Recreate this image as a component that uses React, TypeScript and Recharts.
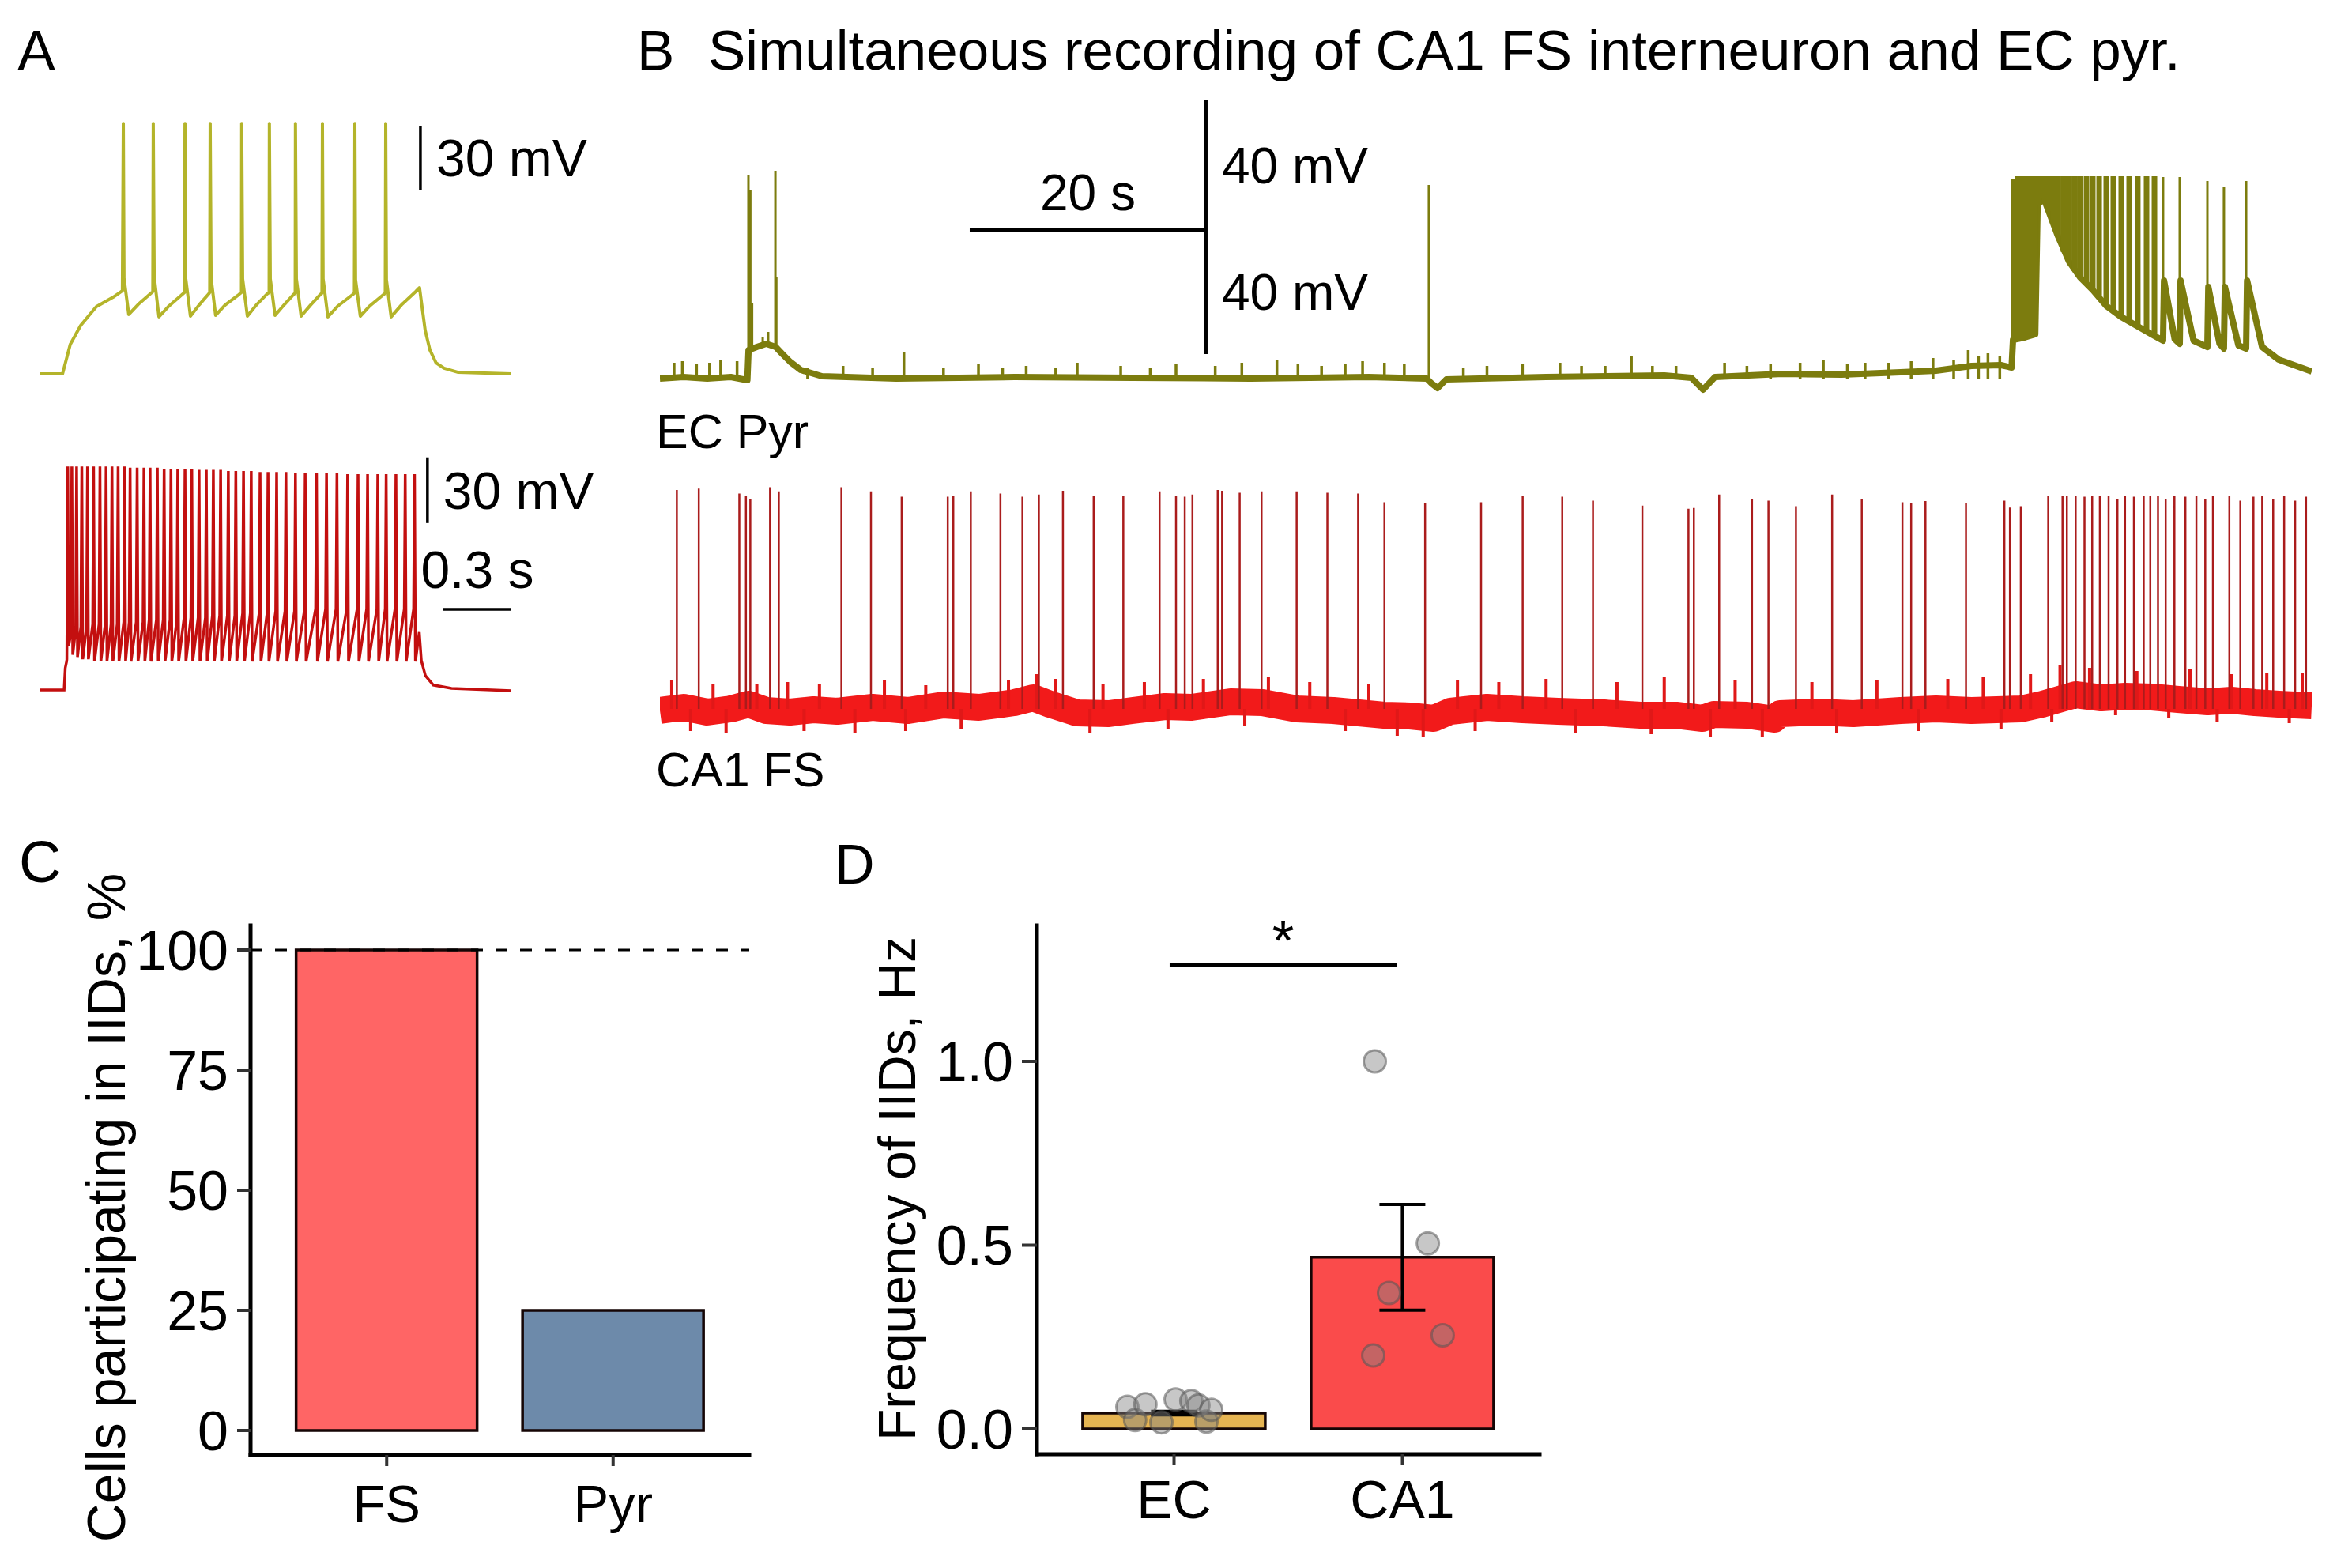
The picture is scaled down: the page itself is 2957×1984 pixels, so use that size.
import React from 'react';
import {
  LineChart, Line, XAxis, YAxis, ReferenceLine, BarChart, Bar, Cell,
  ComposedChart, Scatter, ErrorBar,
} from 'recharts';

// ---------- Panel A: current-step responses (time in ms, Vm in mV) ----------
// EC pyramidal cell, slow membrane potential around the spikes
const pyrKnots = [
  [0, -70], [98, -70], [108, -66], [132, -56.4], [178, -47.6], [247, -38.9], [321, -34.5], [362, -31.5],
  [369, -25.7], [390, -42.5], [432, -37.8], [484, -33], [496, -31.9],
  [502, -24.9], [523, -43.6], [564, -38.9], [624, -33.4], [636, -32.3],
  [641, -25.7], [662, -43.3], [700, -38.1], [742, -33], [747, -32.3],
  [753, -25.7], [773, -42.9], [815, -38.1], [874, -33.4], [887, -32.3],
  [892, -26], [913, -43.3], [955, -37.8], [1000, -33], [1009, -32.3],
  [1014, -26], [1035, -42.9], [1077, -37.8], [1115, -33.4], [1124, -32.6],
  [1129, -26], [1150, -43.3], [1192, -38.1], [1233, -33.4], [1242, -32.6],
  [1247, -26], [1268, -43.6], [1313, -38.5], [1376, -33.4], [1385, -32.6],
  [1390, -26.4], [1411, -43.3], [1453, -38.5], [1512, -33.4], [1521, -32.6],
  [1526, -26.4], [1547, -43.6], [1592, -38.1], [1655, -31.9], [1672, -30.1], [1683, -38.9],
  [1697, -49.9], [1718, -59], [1745, -64.9], [1780, -67.4], [1843, -69.3], [2077, -70],
];
// [time, peak]
const pyrSpikes = [
  [366, 46], [498, 46], [638, 46], [749, 46], [888, 46], [1010, 46], [1125, 46], [1244, 46], [1387, 46], [1523, 46],
];

// FS interneuron: onset / offset of the step
const fsKnots = [
  [0, -70], [105, -70], [110, -60], [116, -57],
  [1671, -43.6], [1680, -56.6], [1698, -63.5], [1733, -67.8], [1813, -69.3], [2077, -70.4],
];
// [time, peak, threshold before, trough after]
const fsSpikes = [
  [121, 32, -56, -50], [139, 32, -44, -54], [160, 32, -42, -55], [183, 32, -41, -56], [208, 32, -41, -56],
  [235, 32, -40, -57], [263, 32, -40, -57], [290, 32, -40, -57], [316, 32, -40, -57], [343, 32, -40, -57],
  [372, 32, -39, -57], [396, 31.5, -39, -57], [427, 31.5, -39, -57], [457, 31.5, -39, -57], [484, 31.5, -38, -57],
  [516, 31.5, -38, -57], [546, 31, -38, -57], [576, 31, -38, -57], [606, 31, -38, -57], [638, 31, -37, -57],
  [668, 31, -37, -57], [700, 30.5, -37, -57], [732, 30.5, -37, -57], [763, 30.5, -36, -57], [795, 30.5, -36, -57],
  [829, 30, -36, -57], [862, 30, -36, -57], [896, 30, -35, -57], [930, 30, -35, -57], [969, 29.5, -35, -57],
  [1004, 29.5, -35, -57], [1042, 29.5, -34, -57], [1083, 29.5, -34, -57], [1125, 29, -34, -57], [1168, 29, -34, -57],
  [1218, 29, -33, -57], [1262, 29, -33, -57], [1308, 29, -33, -57], [1355, 28.5, -33, -57], [1401, 28.5, -33, -57],
  [1443, 28.5, -33, -57], [1488, 28.5, -33, -57], [1525, 28.5, -33, -57], [1568, 28.5, -33, -57], [1609, 28.5, -33, -57],
  [1650, 28.5, -33, -57],
];

// ---------- Panel B: simultaneous recording (time in s, Vm in mV) ----------
const ecBase = [
  [0, -61], [2, -60.5], [4, -61], [6, -60.5], [7.4, -61.5], [7.5, -52], [8.2, -51], [9.0, -50], [9.8, -51],
  [10.37, -53.25], [11.04, -55.75], [11.91, -58.25], [13.71, -60.25], [20, -61], [30, -60.5], [40, -60.75],
  [50, -61], [60, -60.5], [64.9, -61], [65.3, -62.5], [65.82, -64], [66.56, -61.25], [75, -60.5], [85, -60],
  [87.29, -60.75], [88.29, -64.5], [89.3, -60.5], [95, -59.5], [100, -59.75], [105, -59], [108, -58.5],
  [111, -57], [113.5, -56.75], [114.4, -57.5], [114.52, -48.75], [115.5, -48], [116.4, -47], [116.6, -6],
  [117.12, -4], [117.53, -8], [118.33, -16], [119.26, -24],
  [120.2, -29], [121.27, -33], [122.41, -38], [123.68, -41.5], [125.08, -44.5], [126.49, -47.5], [127.22, -49],
  [127.3, -30], [128.2, -48.5], [128.63, -50], [128.7, -30], [129.8, -49], [130.97, -51], [131.05, -32],
  [132.0, -50], [132.37, -51.5], [132.45, -32], [133.6, -50.5], [134.25, -51.5], [134.33, -30], [135.6, -51],
  [137, -55], [139.8, -58.75],
];
// isolated action potentials [time, peak, base]
const ecSpikes = [
  [7.49, 3.25, -61], [7.56, -1.25, -52], [7.65, -1.25, -52], [7.8, -37, -52], [8.7, -48, -51], [9.16, -46.25, -50],
  [9.77, 4.75, -51], [9.85, -28.75, -51], [65.08, 0.25, -61],
  [127.22, 2.75, -49], [128.63, 2.75, -50], [130.97, 1.5, -51], [132.37, -0.25, -51.5], [134.25, 1.5, -51.5],
];
// dense discharge at the onset of the ictal-like event [time, peak, trough]
const ecBurst = [
  [114.6, 2, -48], [114.9, 3, -48], [115.2, 3, -48], [115.5, 3, -48], [115.8, 3, -47.5], [116.1, 3, -47.5],
  [116.4, 3, -47], [116.72, 3, -6], [117.12, 3, -4], [117.53, 3, -8], [117.93, 3, -12], [118.33, 3, -16],
  [118.8, 3, -21], [119.26, 3, -24], [119.73, 3, -27], [120.2, 3, -29], [120.74, 3, -31], [121.27, 3, -33],
  [121.81, 3, -35.5], [122.41, 3, -38], [123.01, 3, -40], [123.68, 3, -41.5], [124.35, 3, -42.5], [125.08, 3, -44.5],
  [125.82, 3, -46], [126.49, 3, -47.5],
];
// small synaptic bumps on the EC baseline [time, peak]
const ecBumps = [
  [1.2, -56], [1.9, -55.5], [3.1, -56.5], [4.2, -56], [5.14, -55], [6.53, -55.5], [12.5, -57.5], [15.5, -57],
  [18, -57.5], [20.65, -52.75], [24, -57.5], [26.96, -56.5], [29, -57.5], [31, -57], [33.5, -57.5], [35.32, -56],
  [39, -57], [41.5, -57.5], [43.68, -56.5], [47, -57], [49.25, -56], [52.22, -55], [54, -56.5], [56, -57],
  [58, -56.5], [59.47, -55.5], [61.32, -56], [63, -56.5], [68, -57.5], [70, -57], [73, -56.5], [76.18, -56],
  [78, -57], [80, -57], [82.22, -54], [84, -57], [86, -57], [90.11, -56], [92, -57], [94, -56.5], [96.5, -56],
  [98.47, -55], [100.5, -56.5], [102, -56], [104, -56], [105.9, -55.5], [107.75, -54.5], [109.5, -55],
  [110.73, -52], [111.6, -54], [112.4, -53], [113.4, -54],
];

const ca1Base = [
  [0, -60.5], [2, -59.5], [4, -61], [6, -60], [7.5, -58.5], [9, -60.5], [11, -61], [13, -60.25], [15, -60.75],
  [18, -59.5], [21, -60.5], [24, -58.75], [27, -59.5], [30, -58], [31.6, -56.5], [33, -58.5], [35.3, -61.25],
  [38, -61.5], [40, -60.5], [42.75, -59.25], [45, -59.5], [48.3, -57.75], [51, -58], [53.9, -60], [57, -60.5],
  [61.3, -62], [63.5, -62.25], [65.5, -63], [66.9, -60.75], [70, -59.5], [73, -60.25], [76, -60.75],
  [79.9, -61.25], [83, -62], [86, -62], [88.25, -63], [89.2, -61.75], [92, -62], [94.3, -63.25],
  [94.8, -61.5], [98, -61], [101, -61.5], [105, -60.5], [108, -60], [111, -60.5], [115.2, -60], [117, -58.5],
  [119.8, -55.5], [122, -56.5], [124, -56], [126.3, -56.25], [128.5, -57], [131, -57.75], [133, -57.25],
  [135, -58], [137, -58.5], [139.8, -59],
];
// [time, peak]
const ca1Spikes = [
  [1.43, 9.25], [3.29, 9.7], [6.72, 8.1], [7.28, 7.5], [7.65, 6.3], [9.32, 10.1], [10.06, 8.8], [15.36, 10.1],
  [17.86, 8.8], [20.46, 7.1], [24.36, 7.1], [24.83, 7.5], [26.31, 8.8], [28.82, 8.1], [30.68, 7.1], [32.07, 7.8],
  [34.11, 9.0], [36.71, 7.3], [39.22, 7.3], [42.29, 8.8], [43.68, 7.5], [44.42, 7.1], [45.07, 7.8], [47.21, 9.25],
  [47.58, 9.0], [49.07, 8.4], [50.92, 8.8], [53.89, 8.8], [56.49, 8.4], [59.09, 8.1], [61.32, 5.4], [64.76, 5.25],
  [69.5, 5.4], [73.02, 7.3], [76.37, 7.1], [78.97, 5.85], [83.15, 4.3], [87.05, 3.3], [87.51, 3.55], [89.65, 7.8],
  [92.43, 6.3], [93.82, 5.85], [96.15, 4.15], [99.21, 7.8], [101.72, 6.3], [105.16, 5.4], [105.9, 5.25],
  [107.11, 5.75], [110.54, 5.25], [113.79, 5.85], [114.26, 3.7], [115.18, 4.15], [117.5, 7.5], [118.71, 7.5],
  [119.08, 7.3], [119.82, 7.5], [120.57, 7.1], [121.22, 7.5], [121.87, 7.3], [122.61, 7.5], [123.36, 6.3],
  [124.0, 7.5], [124.75, 7.1], [125.58, 7.5], [126.14, 7.3], [126.79, 7.5], [127.44, 6.3], [128.18, 7.5],
  [129.11, 7.1], [130.04, 7.5], [130.79, 6.3], [131.44, 7.3], [132.83, 7.5], [133.76, 5.85], [134.87, 7.1],
  [135.61, 7.5], [136.54, 6.3], [137.47, 7.3], [138.4, 5.85], [139.32, 7.1],
];
// synaptic noise around the CA1 baseline [time, extreme]
const ca1Bumps = [
  [1.0, -51], [2.6, -67], [4.5, -52], [5.6, -67.5], [8.2, -52], [10.8, -51.5], [12.2, -67], [13.5, -52],
  [16.5, -67.5], [19, -51], [20.8, -67], [22.5, -52.5], [25.5, -66.5], [29.5, -51], [31.9, -49], [33.5, -50.5],
  [36.4, -67.5], [37.5, -52], [41, -51.5], [43, -66.5], [46, -50.5], [49.5, -65.5], [51.5, -50], [55, -51.5],
  [58, -67], [60, -52], [62.4, -68.5], [64.6, -69], [67.5, -51], [69, -67], [71, -51.5], [75, -50.5],
  [77.5, -67.5], [81, -51.5], [83.9, -68], [85, -50], [88.9, -69], [91, -51], [93.3, -69], [97.5, -51.5],
  [99.6, -67.5], [103, -51], [106.5, -67], [109, -50.5], [112, -50], [113.5, -66.5], [116, -49], [117.8, -64],
  [118.5, -46], [121, -47], [123.2, -62], [125, -48], [127.7, -63], [129.5, -47.5], [131.8, -64], [133, -49],
  [136, -48.5], [137.9, -64.5], [139, -48.5],
];

// ---------- Panel C ----------
const cCategories = ['FS', 'Pyr'];
const cValues = [100, 25];
const cColors = ['#FF6565', '#6D8AAA'];
const cTicks = [0, 25, 50, 75, 100];

// ---------- Panel D ----------
const dCategories = ['EC', 'CA1'];
const dMeans = [0.043, 0.467];
const dSem = [0.005, 0.144];
const dColors = ['#E6B452', '#FA4B4B'];
const dTicks = [0, 0.5, 1.0];
// [horizontal jitter (category units), frequency Hz]
const ecDots = [
  [-0.204, 0.06], [-0.17, 0.024], [-0.125, 0.067], [-0.055, 0.018], [0.007, 0.08],
  [0.076, 0.076], [0.107, 0.064], [0.142, 0.02], [0.163, 0.052],
];
const ca1Dots = [[-0.121, 1.0], [0.111, 0.505], [-0.059, 0.37], [0.176, 0.255], [-0.128, 0.2]];
const sigLevel = 1.262;

// ---------- table builders ----------
type Row = { t: number; v: number | null };
const sortRows = (rows: Row[]) => rows.sort((a, b) => a.t - b.t);
const pyrRows = sortRows([...pyrKnots, ...pyrSpikes].map(([t, v]) => ({ t, v })));
const fsRows = sortRows([
  ...fsKnots.map(([t, v]) => ({ t, v })),
  ...fsSpikes.flatMap(([t, peak, pre, trough]) => [
    { t: t - 4, v: pre }, { t, v: peak }, { t: t + 4, v: trough },
  ]),
]);
const toLine = (pts: number[][]): Row[] => pts.map(([t, v]) => ({ t, v }));
const toSticks = (pts: number[][], base: number): Row[] =>
  pts.flatMap(([t, peak, b]) => [{ t, v: b ?? base }, { t, v: peak }, { t, v: null }]);

const black = '#000';
const olive = '#7C7C0E';
const hidden = { hide: true, allowDataOverflow: true, type: 'number' as const };

function Trace({ margin, width, height, xMax, yDomain, children }: any) {
  return (
    <div style={{ position: 'absolute', left: 0, top: 0 }}>
      <LineChart width={width} height={height} margin={margin}>
        <XAxis {...hidden} dataKey="t" domain={[0, xMax]} />
        <YAxis {...hidden} domain={yDomain} />
        {children}
      </LineChart>
    </div>
  );
}

export default function App() {
  const cData = cCategories.map((name, i) => ({ name, pct: cValues[i] }));
  const dData = dCategories.map((name, i) => ({ name, mean: dMeans[i], sem: dSem[i] }));
  const dotData = [
    ...ecDots.map(([j, y]) => ({ x: 1 + j, y })),
    ...ca1Dots.map(([j, y]) => ({ x: 2 + j, y })),
  ];
  const axisLine = { stroke: black, strokeWidth: 5, strokeLinecap: 'square' as const };
  const tickLine = { stroke: '#333', strokeWidth: 4 };

  return (
    <div style={{
      position: 'absolute', left: 0, top: 0, width: 2957, height: 1984, background: '#fff',
      overflow: 'hidden', fontFamily: '"Liberation Sans", Arial, Helvetica, sans-serif',
    }}>
      {/* A: pyramidal cell */}
      <Trace width={800} height={520} margin={{ top: 100, right: 153, bottom: 20, left: 51 }} xMax={2077} yDomain={[-79.9, 66.6]}>
        <Line data={pyrRows} dataKey="v" stroke="#B4B42A" strokeWidth={4} dot={false} isAnimationActive={false} strokeLinejoin="round" />
        <ReferenceLine segment={[{ x: 1676, y: 15 }, { x: 1676, y: 45 }]} stroke={black} strokeWidth={3.5} ifOverflow="visible"
          label={{ value: '30 mV', position: 'right', offset: 20, fontSize: 66, fill: black }} />
      </Trace>
      {/* A: FS interneuron */}
      <Trace width={800} height={960} margin={{ top: 520, right: 153, bottom: 40, left: 51 }} xMax={2077} yDomain={[-87, 57.4]}>
        <Line data={fsRows} dataKey="v" stroke="#C30F0F" strokeWidth={3.5} dot={false} isAnimationActive={false} />
        <ReferenceLine segment={[{ x: 1707, y: 6.2 }, { x: 1707, y: 36.2 }]} stroke={black} strokeWidth={3.5} ifOverflow="visible"
          label={{ value: '30 mV', position: 'right', offset: 20, fontSize: 66, fill: black }} />
        <ReferenceLine segment={[{ x: 1777, y: -33.2 }, { x: 2077, y: -33.2 }]} stroke={black} strokeWidth={3.5} ifOverflow="visible"
          label={{ value: '0.3 s', position: 'top', offset: 27, fontSize: 66, fill: black }} />
      </Trace>

      {/* B: EC pyr */}
      <Trace width={2957} height={540} margin={{ top: 100, right: 32, bottom: 20, left: 835 }} xMax={139.8} yDomain={[-71.25, 33.75]}>
        <Line data={toLine(ecBase)} dataKey="v" stroke={olive} strokeWidth={8} dot={false} isAnimationActive={false} strokeLinejoin="round" />
        <Line data={toSticks(ecBumps, -61)} dataKey="v" stroke={olive} strokeWidth={3.5} dot={false} isAnimationActive={false} connectNulls={false} />
        <Line data={toSticks(ecBurst, -48)} dataKey="v" stroke={olive} strokeWidth={7} dot={false} isAnimationActive={false} connectNulls={false} />
        <Line data={toSticks(ecSpikes, -61)} dataKey="v" stroke={olive} strokeWidth={3} dot={false} isAnimationActive={false} connectNulls={false} />
        <ReferenceLine segment={[{ x: 26.22, y: -14 }, { x: 46.22, y: -14 }]} stroke={black} strokeWidth={5} ifOverflow="visible"
          label={{ value: '20 s', position: 'top', offset: 25, fontSize: 64, fill: black }} />
        <ReferenceLine segment={[{ x: 46.22, y: 27 }, { x: 46.22, y: -14 }]} stroke={black} strokeWidth={4} ifOverflow="visible"
          label={{ value: '40 mV', position: 'right', offset: 20, fontSize: 64, fill: black }} />
        <ReferenceLine segment={[{ x: 46.22, y: -14 }, { x: 46.22, y: -53.25 }]} stroke={black} strokeWidth={4} ifOverflow="visible"
          label={{ value: '40 mV', position: 'right', offset: 20, fontSize: 64, fill: black }} />
      </Trace>
      {/* B: CA1 FS */}
      <Trace width={2957} height={1000} margin={{ top: 560, right: 32, bottom: 40, left: 835 }} xMax={139.8} yDomain={[-75.75, 24.25]}>
        <Line data={toLine(ca1Base)} dataKey="v" stroke="#F21A1A" strokeWidth={34} dot={false} isAnimationActive={false} strokeLinejoin="round" />
        <Line data={toSticks(ca1Bumps, -60)} dataKey="v" stroke="#E01818" strokeWidth={4} dot={false} isAnimationActive={false} connectNulls={false} />
        <Line data={toSticks(ca1Spikes, -60)} dataKey="v" stroke="#AA1C1C" strokeWidth={2.5} dot={false} isAnimationActive={false} connectNulls={false} />
      </Trace>

      {/* C */}
      <div style={{ position: 'absolute', left: 0, top: 1100 }}>
        <BarChart width={1000} height={840} data={cData} margin={{ top: 71, right: 52, bottom: 0, left: 0 }} barCategoryGap="10%">
          <XAxis dataKey="name" height={99} padding={{ left: 29, right: 29 }} axisLine={axisLine} tickLine={tickLine}
            tickSize={14} tickMargin={23} tick={{ fontSize: 67, fill: black }} />
          <YAxis type="number" width={317} domain={[-5.1, 105.1]} ticks={cTicks} axisLine={axisLine} tickLine={tickLine}
            tickSize={17} tickMargin={11} tick={{ fontSize: 70, fill: black }} allowDataOverflow />
          <ReferenceLine y={100} stroke={black} strokeWidth={3} strokeDasharray="15 16" />
          <Bar dataKey="pct" stroke="#150505" strokeWidth={3.5} isAnimationActive={false}>
            {cData.map((d, i) => <Cell key={d.name} fill={cColors[i]} />)}
          </Bar>
        </BarChart>
      </div>

      {/* D */}
      <div style={{ position: 'absolute', left: 1000, top: 1100 }}>
        <ComposedChart width={1000} height={840} data={dData} margin={{ top: 71, right: 52, bottom: 0, left: 0 }} barCategoryGap="10%">
          <XAxis xAxisId="cat" dataKey="name" height={100} padding={{ left: 29, right: 29 }} axisLine={axisLine} tickLine={tickLine}
            tickSize={14} tickMargin={19} tick={{ fontSize: 68, fill: black }} />
          <XAxis xAxisId="num" dataKey="x" {...hidden} domain={[0.4, 2.6]} />
          <YAxis type="number" width={312} domain={[-0.0688, 1.3699]} ticks={dTicks} axisLine={axisLine} tickLine={tickLine}
            tickSize={19} tickMargin={11} tick={{ fontSize: 70, fill: black }} tickFormatter={(v: number) => v.toFixed(1)} allowDataOverflow />
          <Bar xAxisId="cat" dataKey="mean" stroke="#150505" strokeWidth={3.5} isAnimationActive={false}>
            {dData.map((d, i) => <Cell key={d.name} fill={dColors[i]} />)}
            <ErrorBar dataKey="sem" width={29} strokeWidth={4} stroke={black} direction="y" isAnimationActive={false} />
          </Bar>
          <Scatter xAxisId="num" data={dotData} dataKey="y" isAnimationActive={false}
            shape={(p: any) => <circle cx={p.cx} cy={p.cy} r={14} fill="rgba(130,130,130,0.45)" stroke="rgba(85,85,85,0.55)" strokeWidth={3} />} />
          <ReferenceLine xAxisId="num" segment={[{ x: 0.981, y: sigLevel }, { x: 1.974, y: sigLevel }]} stroke={black} strokeWidth={5}
            ifOverflow="visible" label={{ value: '*', position: 'top', offset: 6, fontSize: 72, fill: black }} />
        </ComposedChart>
      </div>

      {/* panel letters, titles, trace names */}
      <svg width={2957} height={1984} style={{ position: 'absolute', left: 0, top: 0, pointerEvents: 'none' }}>
        <g fill={black}>
          <text x={22} y={89} fontSize={72}>A</text>
          <text x={806} y={88} fontSize={71}>B</text>
          <text x={896} y={88} fontSize={71}>Simultaneous recording of CA1 FS interneuron and EC pyr.</text>
          <text x={830} y={567} fontSize={61}>EC Pyr</text>
          <text x={830} y={995} fontSize={61}>CA1 FS</text>
          <text x={24} y={1116} fontSize={74}>C</text>
          <text x={1056} y={1118} fontSize={70}>D</text>
          <text x={158} y={1528} fontSize={68} textAnchor="middle" transform="rotate(-90 158 1528)">Cells participating in IIDs, %</text>
          <text x={1158} y={1504} fontSize={66} textAnchor="middle" transform="rotate(-90 1158 1504)">Frequency of IIDs, Hz</text>
        </g>
      </svg>
    </div>
  );
}
